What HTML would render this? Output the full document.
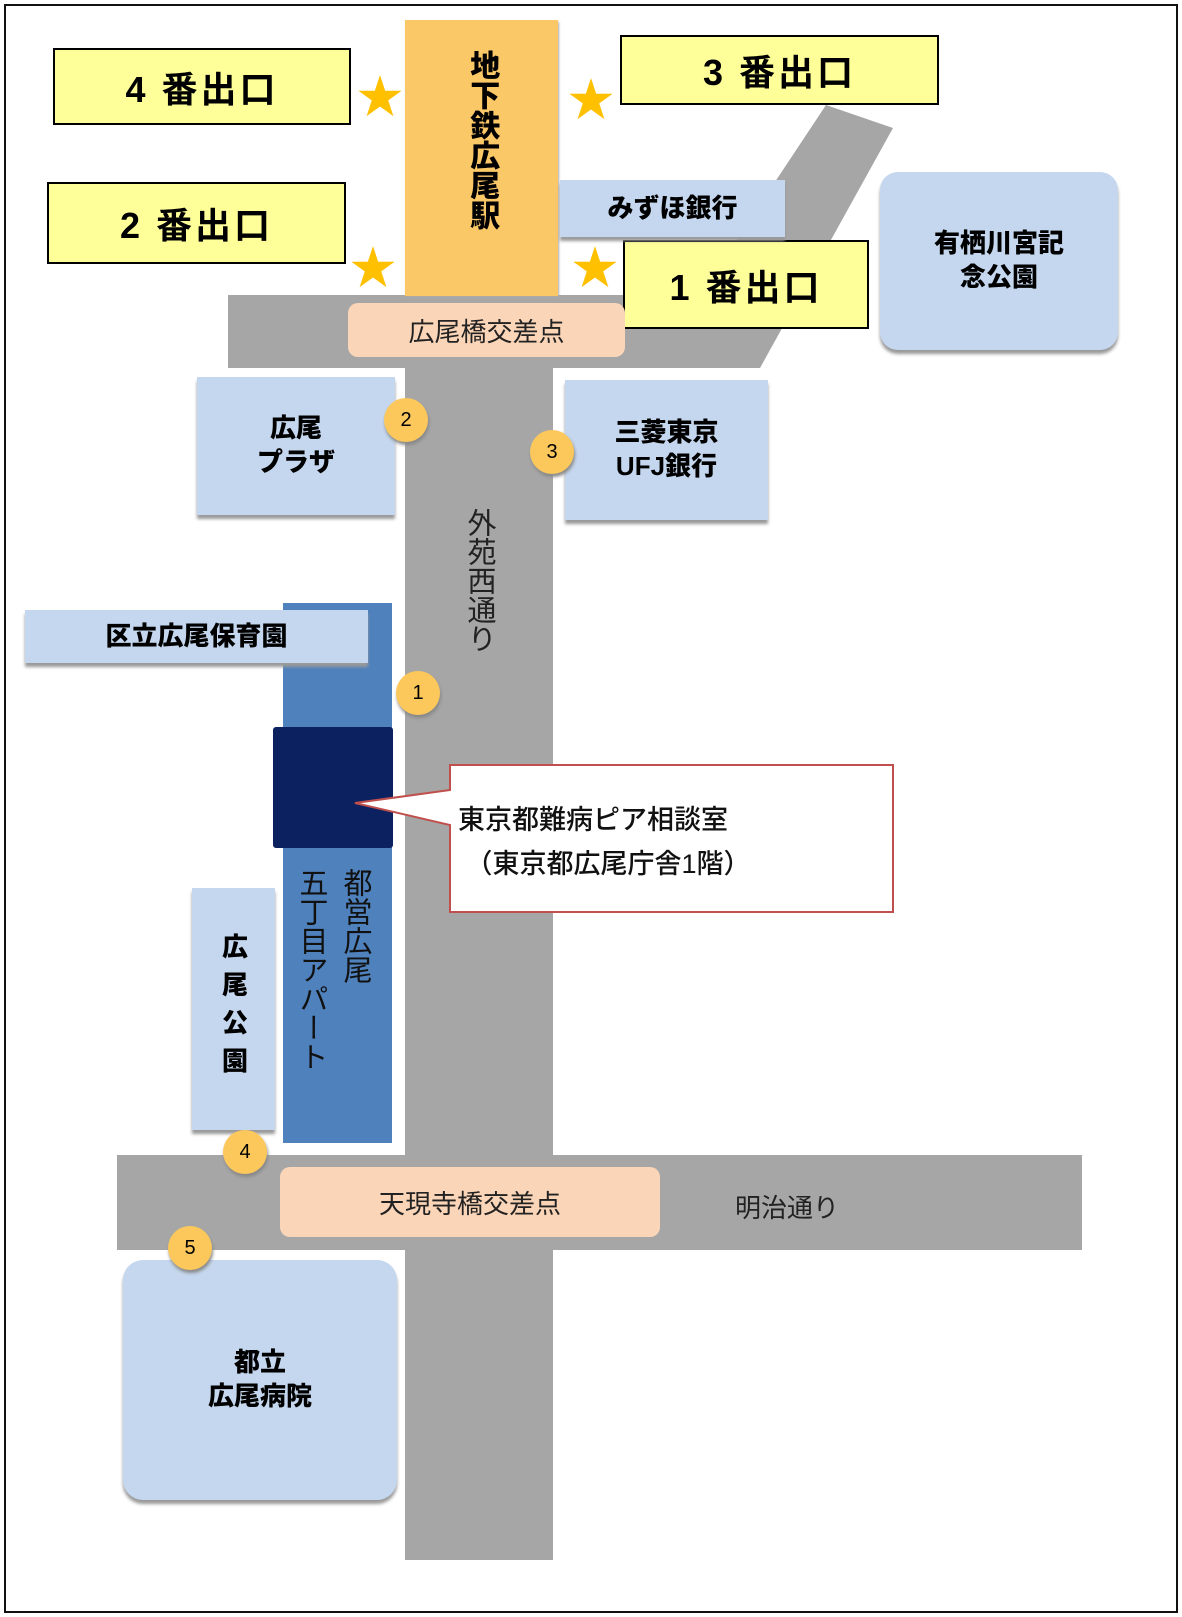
<!DOCTYPE html>
<html><head><meta charset="utf-8"><style>
body{margin:0;width:1182px;height:1617px;background:#fff;position:relative;overflow:hidden;font-family:"Liberation Sans","Noto Sans CJK JP",sans-serif}
div{position:absolute;box-sizing:border-box}
.y{background:#ffff99;border:2px solid #000;font-weight:bold;font-size:36px;display:flex;align-items:center;justify-content:center;letter-spacing:3px}
.b{background:#c5d7ee;box-shadow:0 4px 3px #999;font-weight:900;font-size:26px;display:flex;align-items:center;justify-content:center;text-align:center;line-height:1.3}
.star{color:#ffc000;font-size:46px;line-height:1}
.c{width:44px;height:44px;border-radius:50%;background:#fcc85c;box-shadow:1px 3px 3px #888;font-size:20px;display:flex;align-items:center;justify-content:center}
.p{background:#fbd5b8;border-radius:10px;display:flex;align-items:center;justify-content:center;font-size:26px;color:#222}
.v{writing-mode:vertical-rl;text-orientation:upright}
</style></head><body>
<div style="left:4px;top:4px;width:1174px;height:1609px;border:2px solid #111"></div>
<svg style="position:absolute;left:0;top:0" width="1182" height="1617">
<polygon points="228,295 700,295 826,105 893,128 760,368 228,368" fill="#a6a6a6"/>
<rect x="405" y="360" width="148" height="1200" fill="#a6a6a6"/>
<rect x="117" y="1155" width="965" height="95" fill="#a6a6a6"/>
</svg>
<div style="left:405px;top:20px;width:153px;height:276px;background:#fbc868;box-shadow:1px 2px 2px #aaa;font-weight:900;font-size:30px;display:flex;justify-content:center;padding-top:30px"><span class="v" style="line-height:1.05">地下鉄広尾駅</span></div>
<div class="y" style="left:53px;top:48px;width:298px;height:77px">4 番出口</div>
<div class="y" style="left:620px;top:35px;width:319px;height:70px">3 番出口</div>
<div class="y" style="left:47px;top:182px;width:299px;height:82px">2 番出口</div>
<div class="y" style="left:623px;top:240px;width:246px;height:89px">1 番出口</div>
<div class="star" style="left:357px;top:74px">★</div>
<div class="star" style="left:568px;top:77px">★</div>
<div class="star" style="left:350px;top:245px">★</div>
<div class="star" style="left:572px;top:245px">★</div>
<div class="b" style="left:560px;top:180px;width:225px;height:57px">みずほ銀行</div>
<div class="b" style="left:880px;top:172px;width:238px;height:178px;border-radius:18px">有栖川宮記<br>念公園</div>
<div class="p" style="left:348px;top:303px;width:277px;height:54px">広尾橋交差点</div>
<div class="b" style="left:197px;top:377px;width:198px;height:138px">広尾<br>プラザ</div>
<div class="b" style="left:565px;top:380px;width:203px;height:140px">三菱東京<br>UFJ銀行</div>
<div class="v" style="left:458px;top:508px;font-size:29px;color:#222">外苑西通り</div>
<div style="left:283px;top:603px;width:109px;height:540px;background:#4f81bd"></div>
<div class="b" style="left:25px;top:610px;width:343px;height:53px">区立広尾保育園</div>
<div style="left:273px;top:727px;width:120px;height:121px;background:#0c2260;border-radius:3px"></div>
<div class="v" style="left:333px;top:868px;font-size:29px;color:#111;line-height:44px;height:300px">都営広尾</div>
<div class="v" style="left:291px;top:868px;font-size:29px;color:#111;line-height:40px">五丁目アパート</div>
<div class="b" style="left:192px;top:888px;width:83px;height:242px"><span class="v" style="line-height:1;letter-spacing:12px">広尾公園</span></div>
<svg style="position:absolute;left:0;top:0" width="1182" height="1617">
<polygon points="450,765 893,765 893,912 450,912 450,825 355,803 450,790" fill="#fff" stroke="#c0504d" stroke-width="2"/>
</svg>
<div style="left:458px;top:798px;font-size:27px;color:#111;line-height:44px;white-space:nowrap;font-weight:500">東京都難病ピア相談室<br>&nbsp;（東京都広尾庁舎1階）</div>
<div class="p" style="left:280px;top:1167px;width:380px;height:70px">天現寺橋交差点</div>
<div style="left:735px;top:1188px;font-size:26px;color:#222">明治通り</div>
<div class="b" style="left:123px;top:1260px;width:274px;height:240px;border-radius:20px">都立<br>広尾病院</div>
<div class="c" style="left:384px;top:398px">2</div>
<div class="c" style="left:530px;top:430px">3</div>
<div class="c" style="left:396px;top:671px">1</div>
<div class="c" style="left:223px;top:1130px">4</div>
<div class="c" style="left:168px;top:1226px">5</div>
</body></html>
